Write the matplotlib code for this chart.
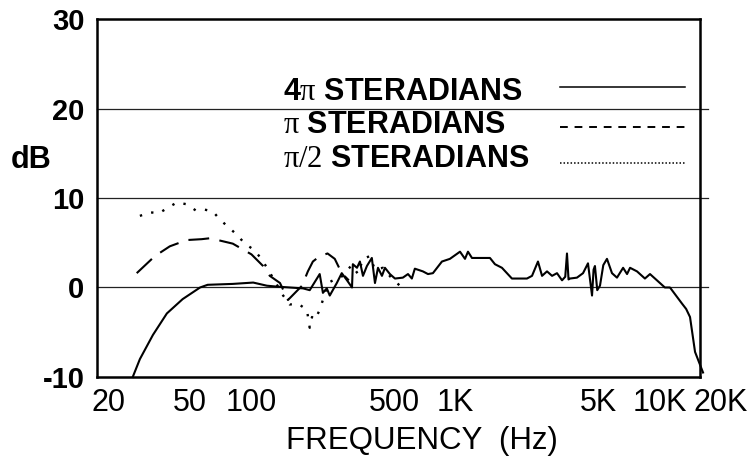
import matplotlib
import matplotlib.pyplot as plt
matplotlib.use('Agg')

plt.rcParams['font.family'] = ['Liberation Sans', 'DejaVu Sans']
plt.rcParams['mathtext.fontset'] = 'custom'
plt.rcParams['mathtext.rm'] = 'Liberation Serif'

# 4 pi steradians (solid)
freq_4pi = [26.2, 28.4, 32.9, 38.5, 46, 56, 61, 81, 102, 119, 133, 154, 179, 193, 216, 224, 234, 242,
            262, 277, 294, 311, 314, 329, 340, 352, 368, 389, 403, 417, 436, 451, 477, 505, 552, 585,
            611, 632, 692, 733, 775, 858, 939, 1052, 1113, 1151, 1204, 1475, 1561, 1689, 1890, 2239,
            2371, 2536, 2655, 2808, 2973, 3143, 3327, 3450, 3518, 3580, 3641, 3937, 4217, 4459, 4667,
            4750, 4823, 4950, 5105, 5300, 5524, 5846, 6185, 6627, 6929, 7168, 7753, 8478, 8977, 9709,
            10617, 11246, 12882, 13500, 14100, 14923, 16330]
db_4pi = [-10, -8.0, -5.3, -2.9, -1.3, 0, 0.3, 0.4, 0.55, 0.2, 0.1, 0, -0.1, -0.3, 1.5, -0.6, -0.1, -0.9,
          0.5, 1.6, 0.8, 0, 2.6, 2.2, 2.9, 1.3, 2.4, 3.3, 0.5, 2.2, 1.3, 2.2, 1.5, 1.0, 1.1, 1.5,
          1.0, 2.1, 1.8, 1.5, 1.6, 2.9, 3.2, 4.0, 3.2, 4.0, 3.3, 3.3, 2.6, 2.2, 1.0, 1.0,
          1.3, 2.9, 1.3, 1.8, 1.3, 1.6, 0.8, 1.2, 3.8, 0.9, 1.0, 1.1, 1.6, 2.7, -0.9,
          2.0, 2.4, -0.3, 0.2, 2.5, 3.2, 1.6, 1.1, 2.2, 1.5, 2.2, 1.8, 1.0, 1.5, 0.8,
          0, 0, -1.8, -2.4, -3.3, -7.2, -9.5]

# pi steradians (dashed)
freq_pi = [27.4, 33.6, 39.8, 48.2, 57.1, 62.5, 68.4, 81, 100, 114, 123, 138, 151, 177, 189, 200, 216,
           236, 256, 277, 300]
db_pi = [1.6, 3.5, 4.6, 5.3, 5.4, 5.5, 5.3, 4.9, 3.7, 2.4, 1.3, 0.5, -1.4, 0.2, 1.8, 2.9, 3.5,
         3.8, 3.2, 1.6, 0.8]

# pi/2 steradians (dotted)
freq_half = [28.4, 31.8, 35.2, 38.9, 43.1, 48.2, 53.4, 59, 64.7, 70, 76.6, 84.8, 92.8, 103, 111, 120,
             143, 154, 169, 187, 193, 198, 205, 216, 229, 237, 251, 271, 287, 310, 333, 352, 380, 403,
             441, 488, 534, 552]
db_half = [8.0, 8.4, 8.3, 8.9, 9.5, 9.3, 8.6, 8.7, 8.5, 7.6, 6.8, 5.9, 4.9, 4.2, 3.3, 2.1,
           -0.9, -1.9, -1.8, -2.5, -4.5, -3.3, -3.6, -2.5, -0.7, 0.5, 0.8, 1.0, 1.6, 2.5, 1.5, 3.2, 3.5, 2.0,
           2.2, 1.0, 0.2, 0.2]

x_ticks = [20, 50, 100, 500, 1000, 5000, 10000]
x_labels = ['20', '50', '100', '500', '1K', '5K', '10K']
y_ticks = [-10, 0, 10, 20, 30]
y_labels = ['-10', '0', '10', '20', '30']
legend_names = ['4$\\mathrm{\u03c0}$ STERADIANS', '$\\mathrm{\u03c0}$ STERADIANS',
                '$\\mathrm{\u03c0/2}$ STERADIANS']

fig = plt.figure(figsize=(7.53, 4.58), dpi=100)
ax = fig.add_axes([0.1288, 0.1769, 0.8008, 0.7816])

ax.set_xscale('log')
ax.set_xlim(17.5, 15780)
ax.set_ylim(-10, 30)

# horizontal rules poke out past the right edge a bit
for yv in [0, 10, 20]:
    ax.axhline(yv, xmax=1.014, color='#222222', lw=0.9, clip_on=False, zorder=1)

ax.plot(freq_4pi, db_4pi, color='black', lw=1.5, clip_on=False, zorder=3)
ax.plot(freq_pi, db_pi, color='black', lw=1.5, ls=(0, (10, 5)), zorder=3)
ax.plot(freq_half, db_half, color='black', lw=1.7, ls=(0, (1, 4)), zorder=3)

# legend: text on the left, line sample on the right
styles = ['-', (0, (4, 3.5)), (0, (1, 1.3))]
widths = [1.1, 1.4, 1.1]
text_y = [0.774, 0.682, 0.587]
line_y = [0.810, 0.698, 0.598]
for name, st, lw, ty, ly in zip(legend_names, styles, widths, text_y, line_y):
    ax.text(0.308, ty, name, transform=ax.transAxes, fontsize=22, fontweight='bold',
            ha='left', va='baseline')
    ax.plot([0.768, 0.975], [ly, ly], transform=ax.transAxes, color='black', lw=lw, ls=st)

ax.set_xticks(x_ticks)
ax.set_xticklabels(x_labels)
ax.minorticks_off()
ax.set_yticks(y_ticks)
ax.set_yticklabels(y_labels, fontweight='bold')
ax.tick_params(axis='x', length=0, pad=8, labelsize=22)
ax.tick_params(axis='y', length=0, pad=9, labelsize=21)

# last label sits past the frame
ax.annotate('20K', xy=(20000, 0), xycoords=('data', 'axes fraction'), xytext=(0, -11),
            textcoords='offset pixels', ha='center', va='top', fontsize=22, annotation_clip=False)

for sp in ax.spines.values():
    sp.set_linewidth(1.8)

ax.set_xlabel('FREQUENCY  (Hz)', fontsize=22.5)
ax.xaxis.set_label_coords(0.539, -0.18)
ax.xaxis.label.set_va('center')
ax.set_ylabel('dB', rotation=0, fontsize=22, fontweight='bold')
ax.yaxis.set_label_coords(-0.109, 0.606)
ax.yaxis.label.set_va('center')
ax.yaxis.label.set_ha('center')

fig.savefig('out.png', dpi=100)
